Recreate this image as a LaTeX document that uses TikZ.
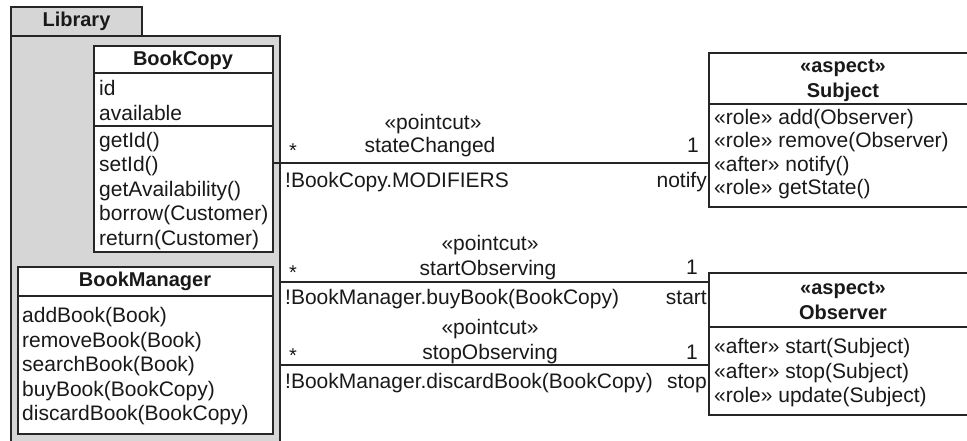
\documentclass[tikz,border=0pt]{standalone}
\usepackage{fontspec}
\setmainfont{Liberation Sans}
\begin{document}
\begin{tikzpicture}[x=1pt,y=-1pt,
		ink/.style={draw=black!85,line width=1.9pt},
		pkgbody/.style={ink,fill=black!16,minimum width=269pt,minimum height=424pt,inner sep=0pt},
		pkgtab/.style={ink,fill=black!16,minimum width=131pt,minimum height=29pt,inner sep=0pt,text=black!90,font=\fontsize{20}{24}\selectfont\bfseries},
		classbox/.style={ink,fill=white,inner sep=0pt},
		classname/.style={inner sep=0pt,text=black!90,font=\fontsize{20}{24}\selectfont\bfseries},
		member/.style={anchor=west,inner sep=0pt,text=black!90,font=\fontsize{21}{25}\selectfont,text height=17pt,text depth=2pt},
		lbl/.style={inner sep=0pt,text=black!90,font=\fontsize{21}{25}\selectfont,text height=17pt,text depth=2pt},
		many/.style={anchor=north,inner sep=0pt,text=black!90,font=\fontsize{20}{22}\selectfont}]
		\useasboundingbox (0,0) rectangle (967,441);
		% package
		\node[pkgbody] (lib) at (145.5,248) {};
		\node[pkgtab] (libtab) at (76.5,21.5) {Library};
		% BookCopy
		\node[classbox,minimum width=179pt,minimum height=206pt] (copy) at (183.5,149) {};
		\node[classname] (copyname) at (183,60) {BookCopy};
		\draw[ink] (copy.west |- 0,73) -- (copy.east |- 0,73);
		\draw[ink] (copy.west |- 0,126) -- (copy.east |- 0,126);
		\foreach \m [count=\i] in {id,available}
			\node[member] (copyattr\i) at (99,{63+25*\i}) {\m};
		\foreach \m [count=\i] in {getId(),setId(),getAvailability(),borrow(Customer),return(Customer)}
			\node[member] (copyop\i) at (99,{115+24.6*\i}) {\m};
		% BookManager
		\node[classbox,minimum width=255pt,minimum height=167pt] (mgr) at (145.5,350.5) {};
		\node[classname] (mgrname) at (145,281) {BookManager};
		\draw[ink] (mgr.west |- 0,296) -- (mgr.east |- 0,296);
		\foreach \m [count=\i] in {addBook(Book),removeBook(Book),searchBook(Book),buyBook(BookCopy),discardBook(BookCopy)}
			\node[member] (mgrop\i) at (22,{290.5+24.5*\i}) {\m};
		% Subject
		\node[classbox,minimum width=268pt,minimum height=154pt] (subj) at (843,130) {};
		\node[classname] (subjst) at (843,68) {«aspect»};
		\node[classname] (subjname) at (843,92) {Subject};
		\draw[ink] (subj.west |- 0,104) -- (subj.east |- 0,104);
		\foreach \m [count=\i] in {«role» add(Observer),«role» remove(Observer),«after» notify(),«role» getState()}
			\node[member] (subjop\i) at (714,{93.5+23.4*\i}) {\m};
		% Observer
		\node[classbox,minimum width=268pt,minimum height=142pt] (obs) at (843,344) {};
		\node[classname] (obsst) at (843,290) {«aspect»};
		\node[classname] (obsname) at (843,312) {Observer};
		\draw[ink] (obs.west |- 0,327) -- (obs.east |- 0,327);
		\foreach \m [count=\i] in {«after» start(Subject),«after» stop(Subject),«role» update(Subject)}
			\node[member] (obsop\i) at (714,{321.5+24.5*\i}) {\m};
		% pointcuts
		\coordinate (changed) at (0,163);
		\coordinate (startobs) at (0,282);
		\coordinate (stopobs) at (0,365);
		\draw[ink] (copy.east |- changed) -- (subj.west |- changed);
		\draw[ink] (lib.east |- startobs) -- (obs.west |- startobs);
		\draw[ink] (lib.east |- stopobs) -- (obs.west |- stopobs);
		\node[lbl] (pc1) at (433,122) {«pointcut»};
		\node[lbl] (pc1name) at (430,145) {stateChanged};
		\node[many] (pc1from) at (293,144) {*};
		\node[lbl,anchor=east] (pc1to) at (699,145) {1};
		\node[lbl,anchor=west] (pc1expr) at (285,180) {!BookCopy.MODIFIERS};
		\node[lbl,anchor=east] (pc1role) at (707,180) {notify};
		\node[lbl] (pc2) at (490,243) {«pointcut»};
		\node[lbl] (pc2name) at (488,268) {startObserving};
		\node[many] (pc2from) at (293,266) {*};
		\node[lbl,anchor=east] (pc2to) at (698,267) {1};
		\node[lbl,anchor=west] (pc2expr) at (285,297) {!BookManager.buyBook(BookCopy)};
		\node[lbl,anchor=east] (pc2role) at (707,297) {start};
		\node[lbl] (pc3) at (490,327) {«pointcut»};
		\node[lbl] (pc3name) at (490,352) {stopObserving};
		\node[many] (pc3from) at (293,349) {*};
		\node[lbl,anchor=east] (pc3to) at (698,352) {1};
		\node[lbl,anchor=west] (pc3expr) at (285,381) {!BookManager.discardBook(BookCopy)};
		\node[lbl,anchor=east] (pc3role) at (707,381) {stop};
	\end{tikzpicture}
\end{document}
